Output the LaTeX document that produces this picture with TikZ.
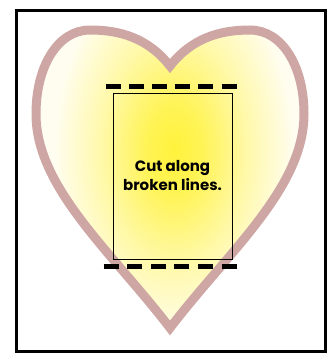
\documentclass[tikz,border=0pt]{standalone}
\usepackage{fontspec}
\setsansfont{Poppins}
\usetikzlibrary{calc}

\definecolor{cRose}{RGB}{206,166,164}
\definecolor{cGlow}{RGB}{255,242,60}
\definecolor{cCream}{RGB}{255,253,240}
\pgfdeclareradialshading{glow}{\pgfpoint{0bp}{0bp}}{%
  color(0bp)=(cGlow); color(6bp)=(cGlow!85!cCream);
  color(15bp)=(cGlow!40!cCream); color(25bp)=(cCream); color(50bp)=(cCream)}

\begin{document}
\begin{tikzpicture}[x=1pt, y=-1pt, font=\sffamily]

%% Geometry: heart axis at x=170, lobes at +-80, tip at 328.
\def\xm{170}
\def\ytip{328}
\def\ydip{66}

\useasboundingbox (0,0) rectangle (336,358);

%% ---------- heart outline, kept as a path macro ----------
\def\heartpath{(\xm,\ydip)
  .. controls (\xm+22,38) and (\xm+50,30) .. (\xm+80,30)
  .. controls (\xm+112,30) and (\xm+134,66) .. (\xm+134,114)
  .. controls (\xm+134,188) and (\xm+58,252) .. (\xm,\ytip)
  .. controls (\xm-58,252) and (\xm-134,188) .. (\xm-134,114)
  .. controls (\xm-134,66) and (\xm-112,30) .. (\xm-80,30)
  .. controls (\xm-50,30) and (\xm-22,38) .. (\xm,\ydip) -- cycle}

%% ---------- yellow glow inside the heart ----------
\begin{scope}
  \clip \heartpath;
  \fill[cCream] (0,0) rectangle (336,358);
  \shade[shading=glow] (\xm+4,150) ellipse (120 and 190);
\end{scope}
\draw[cRose, line width=9pt] \heartpath;

%% ---------- the card to cut out ----------
\node[draw, line width=0.7pt, minimum width=119pt, minimum height=166pt,
  align=center, font=\sffamily\bfseries\fontsize{15}{19}\selectfont]
  (card) at (172.5,176) {Cut along\\broken lines.};

%% ---------- the cut lines ----------
\coordinate (cutTL) at ($(card.north west)+(-7,-6)$);
\coordinate (cutTR) at ($(card.north east)+(5,-6)$);
\coordinate (cutBL) at ($(card.south west)+(-9,7)$);
\coordinate (cutBR) at ($(card.south east)+(5,7)$);
\draw[line width=5pt, dash pattern=on 15pt off 8.2pt] (cutTL) -- (cutTR);
\draw[line width=5pt, dash pattern=on 15pt off 8.6pt] (cutBL) -- (cutBR);

%% ---------- frame ----------
\draw[line width=3pt] (16,11) rectangle (325,351);

\end{tikzpicture}
\end{document}
